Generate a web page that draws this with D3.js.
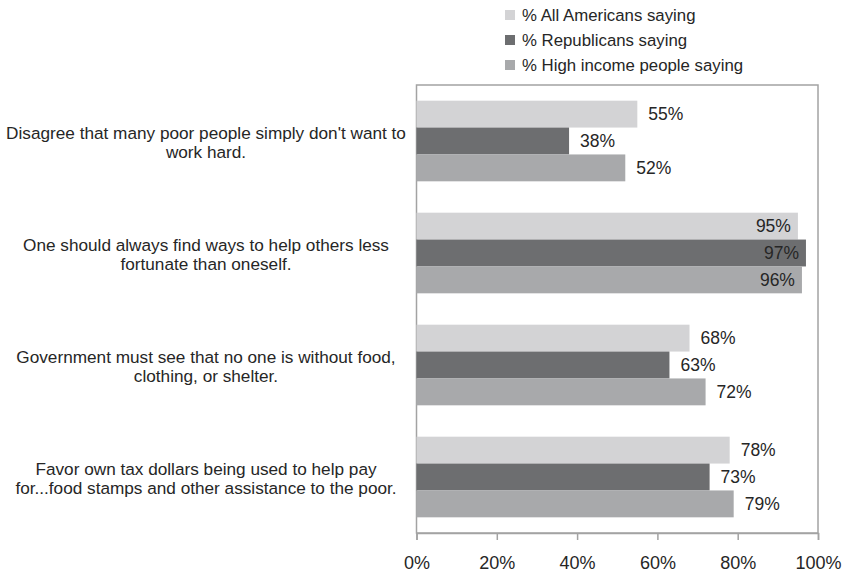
<!DOCTYPE html>
<html>
<head>
<meta charset="utf-8">
<script src="https://cdn.jsdelivr.net/npm/d3@7"></script>
<style>
  html, body { margin: 0; padding: 0; background: #fff; }
  svg { display: block; font-family: "Liberation Sans", Arial, sans-serif; }
</style>
</head>
<body>
<svg id="chart" width="848" height="573"></svg>
<script>
// Survey statements (two display lines each), top to bottom
const categories = [
  ["Disagree that many poor people simply don't want to", "work hard."],
  ["One should always find ways to help others less", "fortunate than oneself."],
  ["Government must see that no one is without food,", "clothing, or shelter."],
  ["Favor own tax dollars being used to help pay", "for...food stamps and other assistance to the poor."]
];
const seriesNames = ["% All Americans saying", "% Republicans saying", "% High income people saying"];
const allAmericans = [55, 95, 68, 78];
const republicans  = [38, 97, 63, 73];
const highIncome   = [52, 96, 72, 79];
const tickValues = [0, 20, 40, 60, 80, 100];
const colors = ["#d3d3d5", "#6d6e70", "#a8a9ab"];

const series = [allAmericans, republicans, highIncome];
const svg = d3.select("#chart");
const textColor = "#262626";

const plot = { left: 416.5, right: 818, top: 85, bottom: 533 };

const x = d3.scaleLinear().domain([0, 100]).range([plot.left, plot.right]);
const y = d3.scaleBand().domain(d3.range(categories.length))
  .range([plot.top, plot.bottom]).paddingInner(0.28).paddingOuter(0.14);
const ySub = d3.scaleBand().domain(d3.range(series.length)).range([0, y.bandwidth()]);

// Plot frame
svg.append("rect")
  .attr("x", plot.left).attr("y", plot.top)
  .attr("width", plot.right - plot.left).attr("height", plot.bottom - plot.top)
  .attr("fill", "none").attr("stroke", "#a3a3a3").attr("stroke-width", 1.5);

// Bars
const groups = svg.selectAll("g.cat").data(categories).join("g")
  .attr("class", "cat")
  .attr("transform", (d, i) => `translate(0,${y(i)})`);

series.forEach((vals, s) => {
  groups.append("rect")
    .attr("x", x(0))
    .attr("y", ySub(s))
    .attr("width", (d, i) => x(vals[i]) - x(0))
    .attr("height", ySub.bandwidth())
    .attr("fill", colors[s]);

  // value labels: outside the bar end, or inside when the bar nearly fills the plot
  groups.append("text")
    .attr("x", (d, i) => vals[i] >= 90 ? x(vals[i]) - 7 : x(vals[i]) + 11)
    .attr("y", ySub(s) + ySub.bandwidth() / 2)
    .attr("dy", "0.36em")
    .attr("text-anchor", (d, i) => vals[i] >= 90 ? "end" : "start")
    .attr("font-size", 17.5)
    .attr("fill", textColor)
    .text((d, i) => vals[i] + "%");
});

// Category labels
groups.append("text")
  .attr("text-anchor", "middle")
  .attr("font-size", 17.2)
  .attr("fill", textColor)
  .each(function(d) {
    const t = d3.select(this);
    d.forEach((line, k) => {
      t.append("tspan")
        .attr("x", 206)
        .attr("y", y.bandwidth() / 2 - 7.8 + k * 18.5)
        .attr("dy", "0.36em")
        .text(line);
    });
  });

// X axis
const xAxis = d3.axisBottom(x).tickValues(tickValues).tickSize(7).tickPadding(16)
  .tickFormat(d => d + "%");
const ax = svg.append("g").attr("transform", `translate(0,${plot.bottom})`).call(xAxis);
ax.select(".domain").attr("stroke", "#a3a3a3").attr("stroke-width", 1.5);
ax.selectAll(".tick line").attr("stroke", "#a3a3a3").attr("stroke-width", 1.5);
ax.selectAll(".tick text").attr("font-size", 18).attr("fill", textColor)
  .attr("font-family", "'Liberation Sans', Arial, sans-serif");

// Legend
const legend = svg.append("g").selectAll("g").data(seriesNames).join("g")
  .attr("transform", (d, i) => `translate(505,${15 + i * 25})`);
legend.append("rect").attr("x", 0).attr("y", -5).attr("width", 10).attr("height", 10)
  .attr("fill", (d, i) => colors[i]);
legend.append("text").attr("x", 17).attr("dy", "0.36em")
  .attr("font-size", 16.8).attr("fill", textColor).text(d => d);
</script>
</body>
</html>
